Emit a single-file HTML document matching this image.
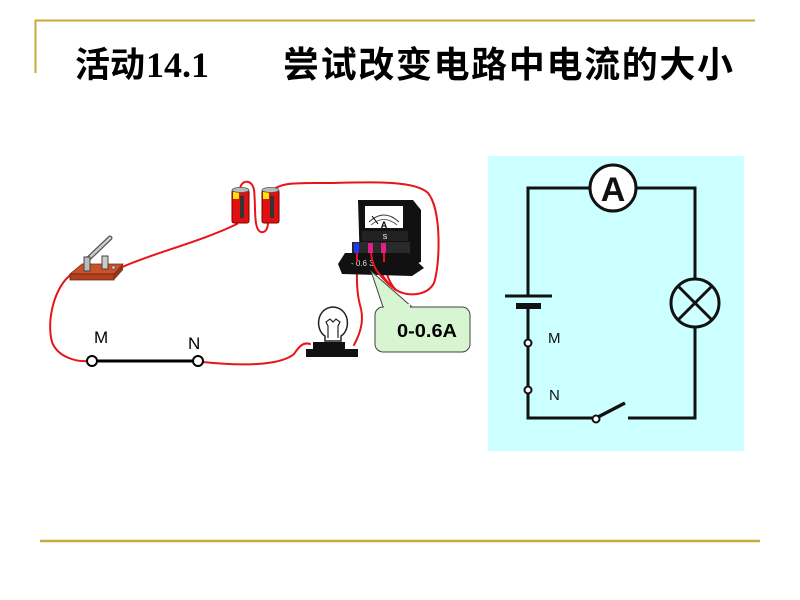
<!DOCTYPE html>
<html><head><meta charset="utf-8"><style>
html,body{margin:0;padding:0;background:#fff;}
svg{display:block;}
</style></head><body>
<svg width="800" height="600" viewBox="0 0 800 600" xmlns="http://www.w3.org/2000/svg">
<rect width="800" height="600" fill="#fff"/>
<!-- frame lines -->
<line x1="35" y1="20.5" x2="755" y2="20.5" stroke="#c9a83a" stroke-width="2"/>
<line x1="35.5" y1="20" x2="35.5" y2="73" stroke="#c9a83a" stroke-width="2"/>
<line x1="40" y1="541" x2="760" y2="541" stroke="#c9a83a" stroke-width="2.5"/>
<!-- title -->
<text x="75" y="77" font-family="'Liberation Sans','Noto Sans CJK SC',sans-serif" font-weight="700" font-size="35" fill="#000">活动</text>
<text x="146" y="77" font-family="'Liberation Serif',serif" font-weight="700" font-size="36" fill="#000">14.1</text>
<text x="283" y="77" font-family="'Liberation Sans','Noto Sans CJK SC',sans-serif" font-weight="700" font-size="36" textLength="450" lengthAdjust="spacing" fill="#000">尝试改变电路中电流的大小</text>

<!-- red wires -->
<g fill="none" stroke="#e8141a" stroke-width="2" stroke-linecap="round">
<path d="M120,268 C150,254 200,242 237,224"/>
<path d="M72,274 C55,285 46,320 52,342 C58,358 78,362 88,361"/>
<path d="M240,190 C240,180 252,178 254,190 C256,205 253,230 261,232 C267,233 268,226 268,222"/>
<path d="M273,190 C282,182 300,183 330,183 C370,182 415,180 428,193 C442,210 440,265 434,283 C427,296 408,297 396,290 C386,283 380,272 373,258"/>
<path d="M384,258 C385,270 388,282 396,290"/>
<path d="M203,362 C240,366 280,366 294,354 C300,345 304,342 310,344"/>
<path d="M354,345 C362,330 364,318 360,305 C356,290 357,275 357,258"/>
</g>

<!-- switch -->
<g>
<polygon points="82,264 123,264 114,274 70,274" fill="#c9522a" stroke="#7a2a10" stroke-width="0.8"/>
<polygon points="70,274 114,274 114,280 70,280" fill="#b0401f" stroke="#6a200a" stroke-width="0.8"/>
<polygon points="114,274 123,264 123,270 114,280" fill="#8e3418"/>
<line x1="88" y1="259" x2="110" y2="238" stroke="#555" stroke-width="5" stroke-linecap="round"/>
<line x1="88" y1="259" x2="110" y2="238" stroke="#ccc" stroke-width="2.5" stroke-linecap="round"/>
<rect x="84" y="257" width="6" height="14" fill="#bbb" stroke="#444" stroke-width="1"/>
<rect x="102" y="256" width="6" height="13" fill="#ccc" stroke="#444" stroke-width="1"/>
<rect x="112" y="266" width="3" height="3" fill="#ddd" stroke="#444" stroke-width="0.6"/>
</g>

<!-- batteries -->
<g>
<rect x="232" y="190" width="17" height="33" rx="2" fill="#e01010" stroke="#700" stroke-width="1"/>
<rect x="233" y="192" width="6" height="7" fill="#ffe600"/>
<rect x="240" y="196" width="4" height="22" fill="#333"/>
<ellipse cx="240.5" cy="190" rx="8.5" ry="2.5" fill="#bbb" stroke="#555" stroke-width="0.8"/>
<rect x="262" y="190" width="17" height="33" rx="2" fill="#e01010" stroke="#700" stroke-width="1"/>
<rect x="263" y="192" width="6" height="7" fill="#ffe600"/>
<rect x="270" y="196" width="4" height="22" fill="#333"/>
<ellipse cx="270.5" cy="190" rx="8.5" ry="2.5" fill="#bbb" stroke="#555" stroke-width="0.8"/>
</g>

<!-- ammeter -->
<g>
<polygon points="358,200 413,200 421,210 421,262 408,266 360,266" fill="#111"/>
<rect x="365" y="206" width="38" height="22" fill="#fff"/>
<path d="M369,222 Q384,208 399,222" fill="none" stroke="#333" stroke-width="1"/>
<path d="M371,225 Q384,214 397,225" fill="none" stroke="#333" stroke-width="0.8"/>
<text x="384" y="228" font-family="'Liberation Sans',sans-serif" font-weight="700" font-size="9" fill="#000" text-anchor="middle">A</text>
<line x1="378" y1="224" x2="372" y2="216" stroke="#000" stroke-width="1"/>
<rect x="362" y="231" width="46" height="10" fill="#222"/>
<text x="385" y="239" font-family="'Liberation Sans',sans-serif" font-size="7" fill="#fff" text-anchor="middle">S</text>
<rect x="352" y="242" width="58" height="12" fill="#2a2a2a"/>
<rect x="354" y="243" width="5" height="10" fill="#1a3aff"/>
<rect x="368" y="243" width="5" height="10" fill="#e0208a"/>
<rect x="381" y="243" width="5" height="10" fill="#e0208a"/>
<polygon points="345,253 408,253 424,268 412,276 342,274 338,264" fill="#111"/>
<text x="351" y="266" font-family="'Liberation Sans',sans-serif" font-size="8" fill="#ddd">- 0.6  3</text>
</g>

<!-- wires from ammeter terminals (on top) -->
<g fill="none" stroke="#e8141a" stroke-width="2">
<path d="M357,253 L357,262"/>
<path d="M371,253 C372,262 375,270 381,276 C386,282 390,286 396,290"/>
<path d="M384,253 L384,262"/>
</g>

<!-- bulb -->
<g>
<path d="M325,336 C315,330 316,308 333,307 C350,308 351,330 341,336 L341,341 L325,341 Z" fill="#fff" stroke="#222" stroke-width="1.5"/>
<path d="M328,338 L328,326 L326,322 L330,319 L333,322 L336,319 L340,322 L338,326 L338,338" fill="none" stroke="#222" stroke-width="1.2"/>
<rect x="313" y="342" width="32" height="8" fill="#111"/>
<rect x="306" y="349" width="52" height="8" fill="#111"/>
</g>

<!-- MN segment -->
<line x1="96" y1="361" x2="193" y2="361" stroke="#000" stroke-width="3"/>
<circle cx="92" cy="361" r="5" fill="#fff" stroke="#000" stroke-width="2"/>
<circle cx="198" cy="361" r="5" fill="#fff" stroke="#000" stroke-width="2"/>
<text x="94" y="343" font-family="'Liberation Sans',sans-serif" font-size="17" fill="#000">M</text>
<text x="188" y="349" font-family="'Liberation Sans',sans-serif" font-size="17" fill="#000">N</text>

<!-- callout -->
<path d="M383,307 L371,271 L412,307" fill="#d6f5d0" stroke="#444" stroke-width="1"/>
<rect x="375" y="307" width="95" height="45" rx="8" fill="#d6f5d0" stroke="#444" stroke-width="1"/>
<rect x="384" y="304" width="26" height="5" fill="#d6f5d0"/>
<text x="397" y="337" font-family="'Liberation Sans',sans-serif" font-weight="700" font-size="18" textLength="60" lengthAdjust="spacingAndGlyphs" fill="#000">0-0.6A</text>

<!-- schematic -->
<rect x="488" y="156" width="256" height="295" fill="#ccffff"/>
<g fill="none" stroke="#111" stroke-width="3">
<path d="M528,296 L528,188 L590,188"/>
<path d="M636,188 L695,188 L695,279"/>
<path d="M695,327 L695,418 L628,418"/>
<path d="M592,418 L528,418 L528,394"/>
<path d="M528,386 L528,347"/>
<path d="M528,339 L528,306"/>
<line x1="505" y1="296" x2="552" y2="296"/>
<line x1="598" y1="417" x2="625" y2="403" stroke-width="3.5"/>
</g>
<rect x="516" y="303" width="25" height="6" fill="#111"/>
<circle cx="613" cy="188" r="23" fill="#fff" stroke="#111" stroke-width="3"/>
<text x="613" y="201" font-family="'Liberation Sans',sans-serif" font-weight="700" font-size="34" fill="#111" text-anchor="middle">A</text>
<circle cx="695" cy="303" r="24" fill="none" stroke="#111" stroke-width="3"/>
<line x1="678" y1="286" x2="712" y2="320" stroke="#111" stroke-width="3"/>
<line x1="712" y1="286" x2="678" y2="320" stroke="#111" stroke-width="3"/>
<circle cx="528" cy="343" r="3.5" fill="#fff" stroke="#111" stroke-width="2"/>
<circle cx="528" cy="390" r="3.5" fill="#fff" stroke="#111" stroke-width="2"/>
<circle cx="596" cy="419" r="3.5" fill="#fff" stroke="#111" stroke-width="2"/>
<text x="548" y="343" font-family="'Liberation Sans',sans-serif" font-size="15" fill="#111">M</text>
<text x="549" y="400" font-family="'Liberation Sans',sans-serif" font-size="15" fill="#111">N</text>
</svg>
</body></html>
